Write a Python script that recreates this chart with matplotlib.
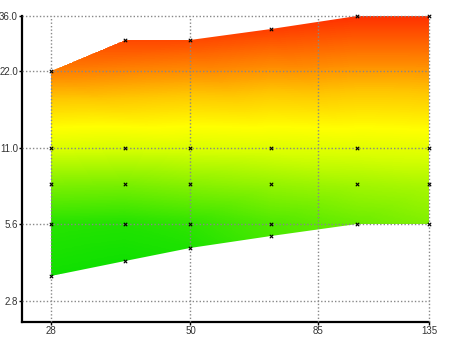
import numpy as np
import matplotlib
matplotlib.use("Agg")
import matplotlib.pyplot as plt
import matplotlib.tri as mtri
from matplotlib.colors import LinearSegmentedColormap
from matplotlib.patches import Polygon

# columns of the measured grid (log-log)
x_vals = [28, 38, 50, 70, 100, 135]
y_low = [3.5, 4.0, 4.5, 5.0, 5.6, 5.6]
y_high = [22, 29, 29, 32, 36, 36]
y_levels = [5.6, 8.0, 11.0]

# heat value (0 = green, 1 = red) at each point
heat_low = [0.00, 0.00, 0.03, 0.13, 0.20, 0.25]
heat_levels = [
    [0.05, 0.04, 0.07, 0.14, 0.20, 0.25],   # 5.6
    [0.25, 0.24, 0.27, 0.30, 0.33, 0.35],   # 8.0
    [0.46, 0.45, 0.46, 0.47, 0.48, 0.49],   # 11.0
]
heat_high = [0.84, 0.95, 0.95, 0.97, 1.00, 1.00]

x_ticks = [28, 50, 85, 135]
y_ticks = [2.8, 5.6, 11.0, 22.0, 36.0]
y_tick_labels = ["2.8", "5.6", "11.0", "22.0", "36.0"]

cmap = LinearSegmentedColormap.from_list("heat", [
    (0.0, "#10e000"), (0.25, "#80f000"), (0.45, "#d8ff00"),
    (0.56, "#ffff00"), (0.70, "#ffc800"), (0.82, "#ff8800"),
    (1.0, "#ff3000")])

# collect all points
px, py, pv = [], [], []
for i, x in enumerate(x_vals):
    px.append(x); py.append(y_low[i]); pv.append(heat_low[i])
    for j, lev in enumerate(y_levels):
        if lev > y_low[i] + 1e-9:
            px.append(x); py.append(lev); pv.append(heat_levels[j][i])
    px.append(x); py.append(y_high[i]); pv.append(heat_high[i])
px = np.array(px, float)
py = np.array(py, float)
pv = np.array(pv, float)

fig = plt.figure(figsize=(4.5, 3.37), dpi=100)
ax = fig.add_axes([22 / 450, 15 / 337, 407 / 450, 306 / 337])
ax.set_xscale("log")
ax.set_yscale("log")
ax.set_xlim(24.8, 135)
ax.set_ylim(2.32, 36)

# colour field: linear interpolation of the heat values in log-log space
tri = mtri.Triangulation(np.log(px), np.log(py))
interp = mtri.LinearTriInterpolator(tri, pv)
gx = np.geomspace(min(x_vals), max(x_vals), 400)
gy = np.geomspace(min(y_low), max(y_high), 400)
GX, GY = np.meshgrid(gx, gy)
heat = interp(np.log(GX), np.log(GY))

outline = list(zip(x_vals, y_low)) + list(zip(x_vals[::-1], y_high[::-1]))
clip = Polygon(outline, closed=True, facecolor="none", edgecolor="none",
               transform=ax.transData)
ax.add_patch(clip)
mesh = ax.pcolormesh(GX, GY, heat, cmap=cmap, vmin=0, vmax=1,
                     shading="nearest", rasterized=True, zorder=1)
mesh.set_clip_path(clip)

ax.scatter(px, py, marker="x", s=6, color="black", linewidths=0.8, zorder=4,
           clip_on=False)

ax.set_xticks(x_ticks)
ax.set_xticklabels([str(t) for t in x_ticks])
ax.set_yticks(y_ticks)
ax.set_yticklabels(y_tick_labels)
ax.minorticks_off()

ax.grid(True, color="#888888", linestyle=(0, (1, 1.5)), linewidth=1.0, zorder=3)
ax.set_axisbelow(False)
for gl in ax.get_xgridlines() + ax.get_ygridlines():
    gl.set_clip_on(False)

for s in ["top", "right"]:
    ax.spines[s].set_visible(False)
for s in ["left", "bottom"]:
    ax.spines[s].set_linewidth(1.6)
ax.tick_params(length=2, width=1, labelsize=7, colors="black", labelcolor="#333333", pad=1)
for lbl in ax.get_xticklabels() + ax.get_yticklabels():
    lbl.set_family("Liberation Sans")

fig.savefig("out.png", dpi=100)
